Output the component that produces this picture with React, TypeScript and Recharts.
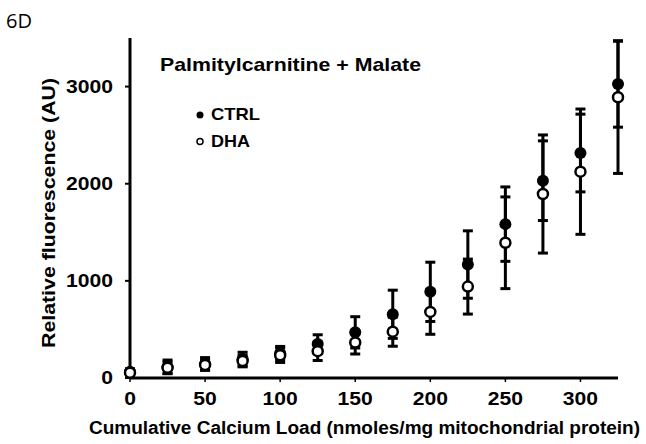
import React from 'react';
import { ScatterChart, Scatter, XAxis, YAxis, ErrorBar } from 'recharts';

const loads = [0, 25, 50, 75, 100, 125, 150, 175, 200, 225, 250, 275, 300, 325];
const ctrlValues = [65, 115, 145, 195, 255, 350, 470, 656, 887, 1168, 1584, 2031, 2316, 3027];
const ctrlErrors = [30, 70, 65, 70, 70, 95, 161, 248, 305, 347, 383, 410, 400, 445];
const dhaValues = [55, 105, 135, 175, 235, 276, 365, 477, 680, 941, 1392, 1894, 2124, 2890];
const dhaErrors: (number | [number, number])[] = [25, 60, 55, 60, 75, 96, 118, 150, 230, 283, 472, 608, 645, [784, 577]];
const xTicks = [0, 50, 100, 150, 200, 250, 300];
const yTicks = [0, 1000, 2000, 3000];

const ctrlData = loads.map((x, i) => ({ x, y: ctrlValues[i], err: ctrlErrors[i] }));
const dhaData = loads.map((x, i) => ({ x, y: dhaValues[i], err: dhaErrors[i] }));

const FONT = '"Liberation Sans", Arial, sans-serif';
const DIGIT_W = 11.75;

const CtrlDot = (props: any) => <circle cx={props.cx} cy={props.cy} r={6} fill="#000" />;
const DhaDot = (props: any) => (
  <circle cx={props.cx} cy={props.cy} r={5} fill="#fff" stroke="#000" strokeWidth={2.5} />
);

const XTick = (props: any) => {
  const s = String(props.payload.value);
  return (
    <text
      x={props.x}
      y={props.y}
      dy="0.71em"
      textAnchor="middle"
      fontSize={18}
      fontWeight="bold"
      fontFamily={FONT}
      fill="#000"
      textLength={s.length * DIGIT_W}
      lengthAdjust="spacingAndGlyphs"
    >
      {s}
    </text>
  );
};

const YTick = (props: any) => {
  const s = String(props.payload.value);
  return (
    <text
      x={props.x}
      y={props.y}
      dy="0.355em"
      textAnchor="end"
      fontSize={18}
      fontWeight="bold"
      fontFamily={FONT}
      fill="#000"
      textLength={s.length * DIGIT_W}
      lengthAdjust="spacingAndGlyphs"
    >
      {s}
    </text>
  );
};

export default function App() {
  return (
    <div style={{ position: 'absolute', left: 0, top: 0, width: 646, height: 444, background: '#fff' }}>
      <ScatterChart width={646} height={444} margin={{ top: 38, right: 28, left: 70, bottom: 36 }}>
        <XAxis
          type="number"
          dataKey="x"
          domain={[0, 325]}
          ticks={xTicks}
          height={30}
          axisLine={{ stroke: '#000', strokeWidth: 3 }}
          tickLine={{ stroke: '#000', strokeWidth: 1.5 }}
          tickSize={4}
          tickMargin={10}
          tick={XTick}
        />
        <YAxis
          type="number"
          dataKey="y"
          domain={[0, 3500]}
          ticks={yTicks}
          width={60}
          axisLine={{ stroke: '#000', strokeWidth: 3 }}
          tickLine={{ stroke: '#000', strokeWidth: 2 }}
          tickSize={5}
          tickMargin={12}
          tick={YTick}
        />
        <Scatter data={ctrlData} dataKey="y" shape={CtrlDot} isAnimationActive={false}>
          <ErrorBar dataKey="err" direction="y" width={5} stroke="#000" strokeWidth={3} isAnimationActive={false} />
        </Scatter>
        <Scatter data={dhaData} dataKey="y" shape={DhaDot} isAnimationActive={false}>
          <ErrorBar dataKey="err" direction="y" width={5} stroke="#000" strokeWidth={3} isAnimationActive={false} />
        </Scatter>
        <text x={6} y={28} fontSize={20} fontFamily='"Open Sans", sans-serif' fill="#000" textLength={26} lengthAdjust="spacingAndGlyphs">6D</text>
        <text x={160} y={71} fontSize={19} fontWeight="bold" fontFamily={FONT} fill="#000" textLength={261} lengthAdjust="spacingAndGlyphs">
          Palmitylcarnitine + Malate
        </text>
        <circle cx={200} cy={115} r={3.5} fill="#000" />
        <text x={211} y={120} fontSize={17} fontWeight="bold" fontFamily={FONT} fill="#000" textLength={49} lengthAdjust="spacingAndGlyphs">CTRL</text>
        <circle cx={200} cy={141.5} r={3} fill="#fff" stroke="#000" strokeWidth={1.5} />
        <text x={211} y={146.5} fontSize={17} fontWeight="bold" fontFamily={FONT} fill="#000" textLength={39} lengthAdjust="spacingAndGlyphs">DHA</text>
        <text
          transform="translate(55, 213) rotate(-90)"
          textAnchor="middle"
          fontSize={18}
          fontWeight="bold"
          fontFamily={FONT}
          fill="#000"
          textLength={270}
          lengthAdjust="spacingAndGlyphs"
        >
          Relative fluorescence (AU)
        </text>
        <text x={89} y={434} fontSize={18} fontWeight="bold" fontFamily={FONT} fill="#000" textLength={551} lengthAdjust="spacingAndGlyphs">
          Cumulative Calcium Load (nmoles/mg mitochondrial protein)
        </text>
      </ScatterChart>
    </div>
  );
}
